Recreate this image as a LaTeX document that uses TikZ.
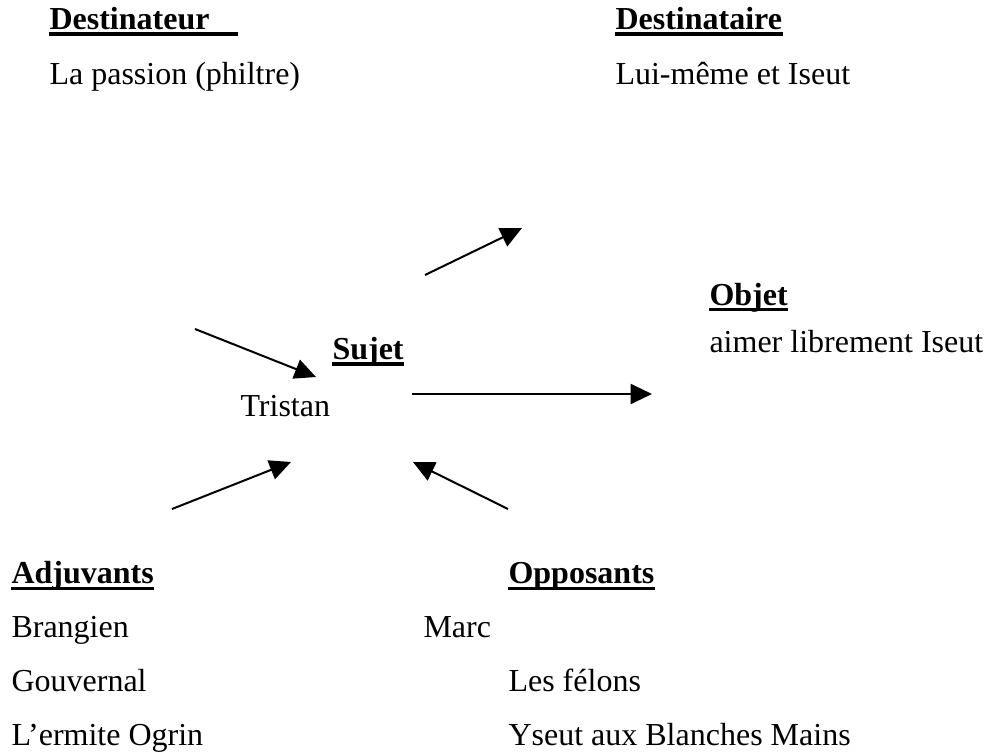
\documentclass[tikz,border=0pt]{standalone}
\usepackage{fontspec}
\setmainfont{Liberation Serif}
\usetikzlibrary{arrows.meta}
\tikzset{
  plaintext/.style={anchor=base west, inner sep=0pt, font=\fontsize{12}{14}\selectfont},
  roletext/.style={plaintext, font=\fontsize{12}{14}\selectfont\bfseries},
  roleline/.style={line width=1.2pt},
  actarrow/.style={line width=0.75pt, -{Triangle[length=8pt, width=7.5pt]}}
}
\begin{document}
\begin{tikzpicture}
% actantial scheme, one unit = one pixel of the page
\begin{scope}[x=0.375pt, y=-0.375pt]
  \useasboundingbox (0,0) rectangle (988,753);
  % Top row
  \node[roletext] (destinateur) at (49,30) {Destinateur};
  \node[plaintext] (passion) at (49,84) {La passion (philtre)};
  \node[roletext] (destinataire) at (615,30) {Destinataire};
  \node[plaintext] (luimeme) at (615,84) {Lui-même et Iseut};
  % Middle row
  \node[roletext] (sujet) at (332,360) {Sujet};
  \node[plaintext] (tristan) at (240,416) {Tristan};
  \node[roletext] (objet) at (709,305) {Objet};
  \node[plaintext] (aimer) at (709,352) {aimer librement Iseut};
  % Bottom row
  \node[roletext] (adjuvants) at (11,583) {Adjuvants};
  \node[plaintext] (brangien) at (11,637) {Brangien};
  \node[plaintext] (gouvernal) at (11,691) {Gouvernal};
  \node[plaintext] (ogrin) at (11,745) {L’ermite Ogrin};
  \node[roletext] (opposants) at (508,583) {Opposants};
  \node[plaintext] (marc) at (423,637) {Marc};
  \node[plaintext] (felons) at (508,691) {Les félons};
  \node[plaintext] (yseut) at (508,745) {Yseut aux Blanches Mains};
  % Underlines
  \coordinate (destinateur end) at (238,34);
  \draw[roleline] ([yshift=-1.5pt]destinateur.base west) -- (destinateur end);
  \draw[roleline] ([yshift=-1.5pt]destinataire.base west) -- ([yshift=-1.5pt]destinataire.base east);
  \draw[roleline] ([yshift=-1.8pt]objet.base west) -- ([yshift=-1.8pt]objet.base east);
  \draw[roleline] ([yshift=-1.5pt]sujet.base west) -- ([yshift=-1.5pt]sujet.base east);
  \draw[roleline] ([yshift=-2pt]adjuvants.base west) -- ([yshift=-2pt]adjuvants.base east);
  \draw[roleline] ([yshift=-2pt]opposants.base west) -- ([yshift=-2pt]opposants.base east);
  % Arrow ends
  \coordinate (to dest tail) at (425,275);
  \coordinate (to dest tip) at (522,228);
  \coordinate (from dest tail) at (195,329);
  \coordinate (from dest tip) at (316,377);
  \coordinate (to obj tail) at (412,394);
  \coordinate (to obj tip) at (652,394);
  \coordinate (adj tail) at (172,509);
  \coordinate (adj tip) at (291,462);
  \coordinate (opp tail) at (508,509);
  \coordinate (opp tip) at (413,462);
  % Arrows
  \draw[actarrow] (to dest tail) -- (to dest tip);
  \draw[actarrow] (from dest tail) -- (from dest tip);
  \draw[actarrow] (to obj tail) -- (to obj tip);
  \draw[actarrow] (adj tail) -- (adj tip);
  \draw[actarrow] (opp tail) -- (opp tip);
\end{scope}
\end{tikzpicture}
\end{document}
